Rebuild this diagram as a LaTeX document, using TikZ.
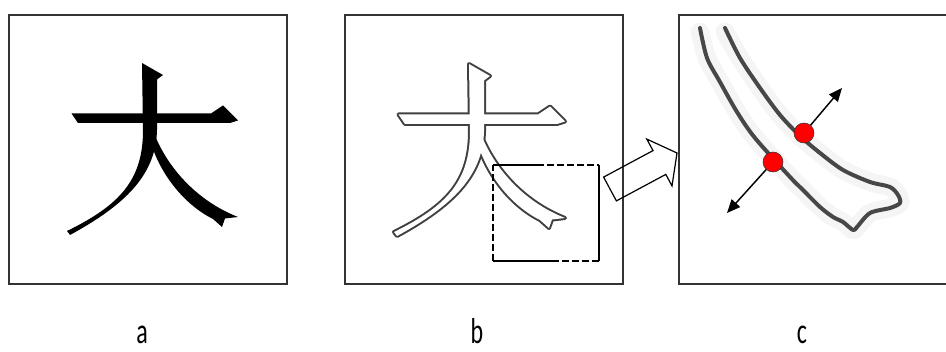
\documentclass[tikz,border=0pt]{standalone}
\usepackage{fontspec}
\setmainfont{Carlito}
\usetikzlibrary{arrows.meta}
\newcommand\daiShape[1]{%
  \path[#1] (71.5,113.5) -- (211,113.5) -- (223,105.5) -- (238,120.5) -- (230,123) -- (78,123) -- cycle;
  \path[#1] (142,63) -- (163,75) -- (157,79.5) -- (157,130) .. controls (156,175) and (125,205) .. (70,235) -- (67,231) .. controls (120,205) and (143,180) .. (143,130) -- cycle;
  \path[#1] (152,128) .. controls (165,165) and (195,200) .. (238,217) -- (225,218.5) -- (222,227) -- (213,219) .. controls (185,205) and (160,175) .. (150,140) -- cycle;}
\begin{document}
\begin{tikzpicture}[x=0.75pt,y=-0.75pt,
  frame/.style={draw=black!80, line width=1.5pt},
  selbox/.style={draw=black, line width=1.1pt},
  dashpat/.style={dash pattern=on 5.25pt off 2.25pt},
  hollow/.style={draw=black, line width=0.9pt, line join=miter},
  contour/.style={draw=black!72, line width=3pt, line join=round, line cap=round},
  halo/.style={draw=black!4, line width=14pt, line join=round, line cap=round},
  dot/.style={circle, fill=red, draw=black!80, line width=0.4pt, minimum size=15pt, inner sep=0pt},
  normarrow/.style={draw=black, line width=1.1pt, -{Triangle[length=10pt,width=8.5pt]}},
  lab/.style={anchor=base, inner sep=0pt, font=\fontsize{18}{20}\selectfont}]
\useasboundingbox (0,0) rectangle (946,352);
% panel a
\daiShape{fill=black}
\draw[frame] (9,15) rectangle (287,284);
% panel b
\begin{scope}[shift={(327,1)}]
  \daiShape{draw=black!75, line width=3pt, line join=round}
  \daiShape{fill=white}
\end{scope}
\draw[frame] (345,15) rectangle (623,284);
% selection box
\draw[selbox] (493,165) -- (537,165);
\draw[selbox, dashpat] (537,165) -- (599,165);
\draw[selbox] (599,165) -- (599,261);
\draw[selbox, dashpat] (599,261) -- (558,261);
\draw[selbox] (558,261) -- (493,261);
\draw[selbox, dashpat] (493,261) -- (493,165);
% hollow arrow
\draw[hollow] (603.6,177.1) -- (653.0,150.6) -- (646.8,139.1) -- (677,153) -- (672,185.9) -- (665.8,174.4) -- (616.4,200.9) -- cycle;
% panel c
\draw[halo] plot[smooth, tension=0.5] coordinates {(725,32) (740,58) (760,88) (780,115) (800,136) (820,153) (843,170) (870,182) (890,187) (898,195) (900,203) (890,208) (870,213) (857,227) (853,230) (843,222) (833,217) (820,207) (803,190) (790,177) (755,138) (737,112) (720,82) (707,58) (700,32)};
\draw[contour] plot[smooth, tension=0.5] coordinates {(725,28) (740,58) (760,88) (780,115) (800,136) (820,153) (843,170) (870,182) (890,187) (898,195) (900,203) (890,208) (870,213) (857,227) (853,230) (843,222) (833,217) (820,207) (803,190) (790,177) (755,138) (737,112) (720,82) (707,58) (700,28)};
\draw[frame] (946,15) -- (679,15) -- (679,284) -- (946,284);
\node[dot] (d1) at (804,133) {};
\node[dot] (d2) at (773,162) {};
\coordinate (e1) at (842,88);
\coordinate (e2) at (727,213);
\draw[normarrow] (d1) -- (e1);
\draw[normarrow] (d2) -- (e2);
% labels
\node[lab] (la) at (142,344) {\scalebox{1}[1.5]{a}};
\node[lab] (lb) at (477,344) {\scalebox{1}[1.5]{b}};
\node[lab] (lc) at (802,344) {\scalebox{1}[1.5]{c}};
\end{tikzpicture}
\end{document}
